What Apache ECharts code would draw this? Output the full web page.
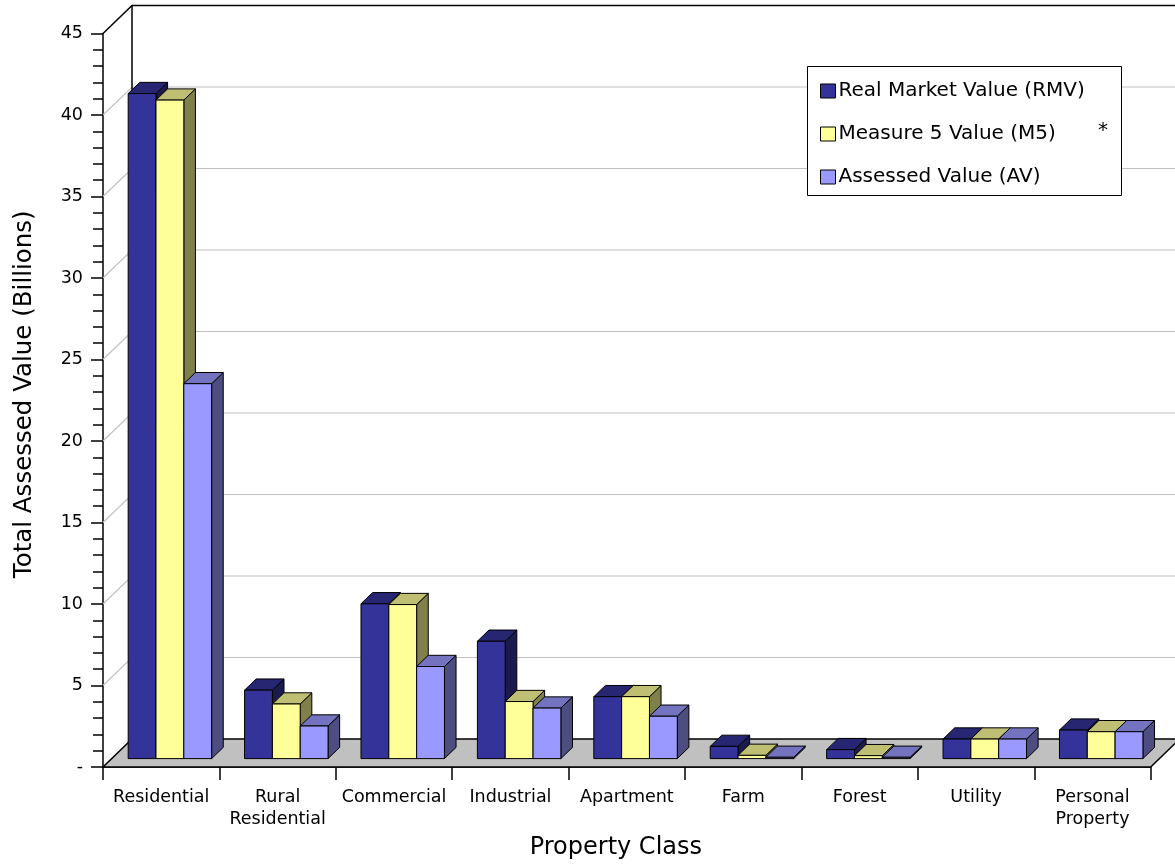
<!DOCTYPE html>
<html>
<head>
<meta charset="utf-8">
<script src="https://cdn.jsdelivr.net/npm/echarts@6/dist/echarts.min.js"></script>
<style>
  html, body { margin: 0; padding: 0; background: #ffffff; }
  #chart { width: 1175px; height: 865px; }
</style>
</head>
<body>
<div id="chart"></div>
<script>
// Property classes and totals (billions of dollars)
const categories = ['Residential', 'Rural\nResidential', 'Commercial', 'Industrial', 'Apartment', 'Farm', 'Forest', 'Utility', 'Personal\nProperty'];
const rmvValues = [40.8, 4.2, 9.5, 7.2, 3.8, 0.75, 0.55, 1.2, 1.75];
const m5Values  = [40.4, 3.35, 9.45, 3.5, 3.8, 0.2, 0.18, 1.2, 1.65];
const avValues  = [23.0, 2.0, 5.65, 3.1, 2.6, 0.08, 0.08, 1.2, 1.65];
const seriesNames = ['Real Market Value (RMV)', 'Measure 5 Value (M5)', 'Assessed Value (AV)'];
const valueTicks = [0, 5, 10, 15, 20, 25, 30, 35, 40, 45];

const FONT = '"DejaVu Sans", Verdana, sans-serif';

// Oblique projection of the chart box: full depth shift and bar placement in depth
const DEPTH_X = 29, DEPTH_Y = 28;
const BAR_FRONT = 0.3, BAR_DEPTH = 0.4;
const BAR_WIDTH_RATIO = 0.239;

// front / top / side shading per series
const palettes = [
  { front: '#333399', top: '#262673', side: '#1a1a4d' },
  { front: '#ffff99', top: '#bfbf73', side: '#80804d' },
  { front: '#9999ff', top: '#7373bf', side: '#4d4d80' }
];

function makeBarRenderer(idx) {
  const pal = palettes[idx];
  return function (params, api) {
    const cat = api.value(0), val = api.value(1);
    const base = api.coord([cat, 0]);
    const top = api.coord([cat, val]);
    const band = api.size([1, 0])[0];
    const w = band * BAR_WIDTH_RATIO;
    const fx = DEPTH_X * BAR_FRONT, fy = DEPTH_Y * BAR_FRONT;
    const dx = DEPTH_X * BAR_DEPTH, dy = DEPTH_Y * BAR_DEPTH;
    const x0 = base[0] + fx + (idx - 1.5) * w;
    const x1 = x0 + w;
    const yb = base[1] - fy;
    const yt = top[1] - fy;
    const edge = { stroke: '#000', lineWidth: 1, lineJoin: 'miter' };
    return {
      type: 'group',
      children: [
        { type: 'polygon', shape: { points: [[x1, yt], [x1 + dx, yt - dy], [x1 + dx, yb - dy], [x1, yb]] },
          style: Object.assign({ fill: pal.side }, edge) },
        { type: 'polygon', shape: { points: [[x0, yt], [x0 + dx, yt - dy], [x1 + dx, yt - dy], [x1, yt]] },
          style: Object.assign({ fill: pal.top }, edge) },
        { type: 'rect', shape: { x: x0, y: yt, width: w, height: yb - yt },
          style: Object.assign({ fill: pal.front }, edge) }
      ]
    };
  };
}

// Back wall gridlines, side-wall diagonals and the grey floor
function frameRenderer(params, api) {
  const cs = params.coordSys;
  const left = cs.x, right = cs.x + cs.width;
  const y0 = api.coord([0, 0])[1];
  const yMax = api.coord([0, valueTicks[valueTicks.length - 1]])[1];
  const children = [];
  valueTicks.forEach(function (v) {
    if (v === 0) return;
    const y = api.coord([0, v])[1];
    const isTop = v === valueTicks[valueTicks.length - 1];
    children.push({
      type: 'polyline',
      shape: { points: [[left, y], [left + DEPTH_X, y - DEPTH_Y], [right + DEPTH_X + 40, y - DEPTH_Y]] },
      style: { stroke: isTop ? '#000' : '#c0c0c0', lineWidth: isTop ? 1.5 : 1.2, fill: null }
    });
  });
  children.push({
    type: 'line',
    shape: { x1: left + DEPTH_X, y1: yMax - DEPTH_Y, x2: left + DEPTH_X, y2: y0 - DEPTH_Y },
    style: { stroke: '#000', lineWidth: 1.5 }
  });
  children.push({
    type: 'polygon',
    shape: { points: [[left, y0], [right, y0], [right + DEPTH_X, y0 - DEPTH_Y], [left + DEPTH_X, y0 - DEPTH_Y]] },
    style: { fill: '#c0c0c0', stroke: '#000', lineWidth: 1.5 }
  });
  return { type: 'group', children: children };
}

const seriesValues = [rmvValues, m5Values, avValues];

const chart = echarts.init(document.getElementById('chart'), null, { renderer: 'canvas' });

const series = [{
  name: 'frame',
  type: 'custom',
  renderItem: frameRenderer,
  data: [[0, 0]],
  encode: { x: 0, y: 1 },
  silent: true,
  z: 1
}];
seriesValues.forEach(function (vals, i) {
  series.push({
    name: seriesNames[i],
    type: 'custom',
    renderItem: makeBarRenderer(i),
    data: vals.map(function (v, k) { return [k, v]; }),
    encode: { x: 0, y: 1 },
    itemStyle: { color: palettes[i].front },
    z: 2
  });
});

chart.setOption({
  animation: false,
  backgroundColor: '#ffffff',
  textStyle: { fontFamily: FONT, color: '#000' },
  grid: { left: 103, right: 24.3, top: 33.5, bottom: 97.3, containLabel: false },
  xAxis: {
    type: 'category',
    data: categories,
    boundaryGap: true,
    axisLine: { show: true, lineStyle: { color: '#000', width: 1.5 } },
    axisTick: { show: true, length: 13, lineStyle: { color: '#000', width: 1.5 } },
    axisLabel: { interval: 0, margin: 19, fontSize: 17.5, lineHeight: 22, color: '#000', fontFamily: FONT },
    splitLine: { show: false },
    name: 'Property Class',
    nameLocation: 'middle',
    nameGap: 69,
    nameTextStyle: { fontSize: 24, color: '#000', fontFamily: FONT, padding: [0, 22, 0, 0] }
  },
  yAxis: {
    type: 'value',
    min: 0,
    max: 45,
    interval: 5,
    axisLine: { show: true, lineStyle: { color: '#000', width: 1.5 } },
    axisTick: { show: true, length: 12, lineStyle: { color: '#000', width: 1.5 } },
    minorTick: { show: true, splitNumber: 5, length: 10, lineStyle: { color: '#000', width: 1.5 } },
    splitLine: { show: false },
    axisLabel: {
      margin: 20, fontSize: 17.5, color: '#000', fontFamily: FONT,
      formatter: function (v) { return v === 0 ? '-' : String(v); }
    },
    name: 'Total Assessed Value (Billions)',
    nameLocation: 'middle',
    nameRotate: 90,
    nameGap: 66,
    nameTextStyle: { fontSize: 24.5, color: '#000', fontFamily: FONT, padding: [0, 0, 0, 12] }
  },
  legend: {
    orient: 'vertical',
    left: 815,
    top: 75,
    itemWidth: 15,
    itemHeight: 14,
    itemGap: 21,
    selectedMode: false,
    z: 6,
    data: seriesNames.map(function (n) {
      return { name: n, icon: 'rect', itemStyle: { borderColor: '#000', borderWidth: 1 } };
    }),
    textStyle: { fontFamily: FONT, fontSize: 20, lineHeight: 22, color: '#000', padding: [0, 0, 0, -2] }
  },
  graphic: [
    { type: 'rect', left: 807, top: 66, z: 5,
      shape: { width: 314, height: 129 },
      style: { fill: '#ffffff', stroke: '#000', lineWidth: 1 } },
    { type: 'text', left: 1098, top: 121, z: 7,
      style: { text: '*', font: '20px ' + FONT, fill: '#000' } }
  ],
  series: series
});
</script>
</body>
</html>
